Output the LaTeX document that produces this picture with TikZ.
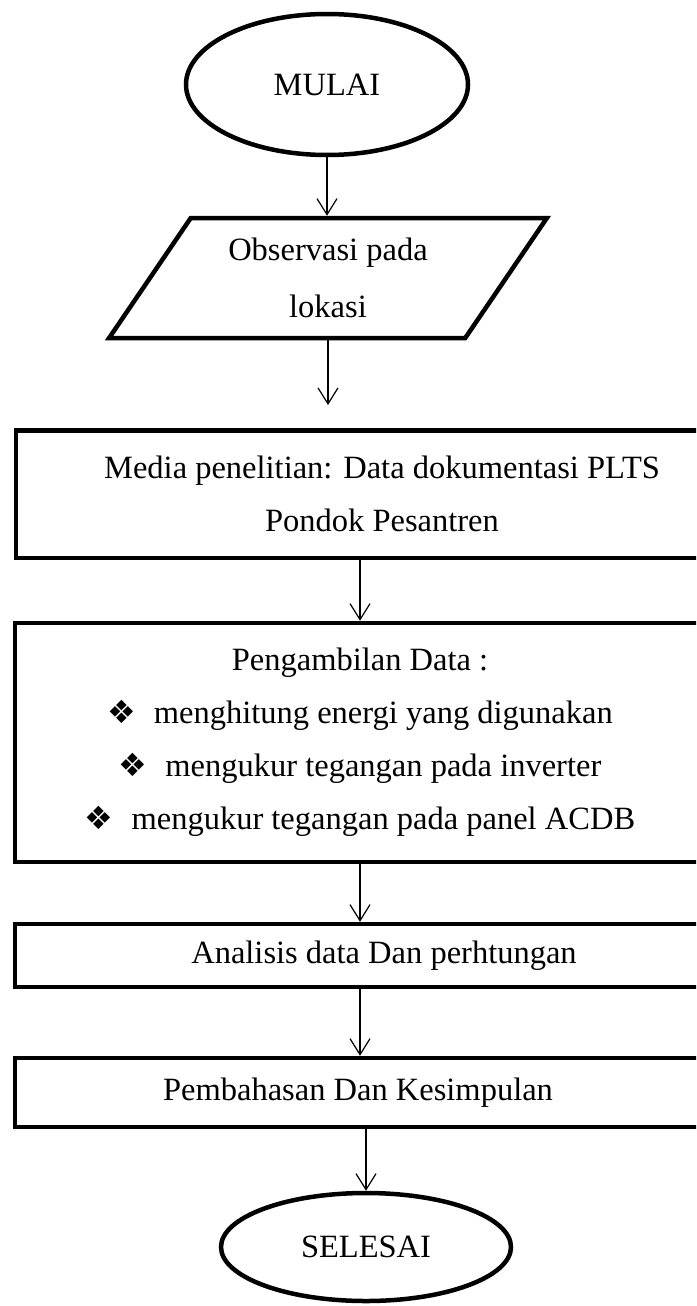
\documentclass[tikz,border=0pt]{standalone}
\usepackage{fontspec}
\setmainfont{Liberation Serif}
\newfontfamily\symfont{DejaVu Sans}
\usetikzlibrary{shapes.geometric,arrows.meta}
\tikzset{every node/.style={font=\fontsize{32.5}{53}\selectfont, align=center, inner sep=0pt},
  box/.style={draw, rectangle, line width=4.5pt},
  oval/.style={draw, ellipse, line width=4.5pt},
  slant/.style={draw, trapezium, trapezium left angle=53.4, trapezium right angle=126.6,
    trapezium stretches=true, line width=4.5pt},
  arr/.style={line width=1.2pt, -{Straight Barb[length=16pt,width=20pt]}}}
\newcommand{\itm}{{\symfont\fontsize{32}{32}\selectfont ❖}\hspace{18pt}}

\begin{document}
\begin{tikzpicture}[x=1pt,y=-1pt]
  \path[use as bounding box, clip] (0,0) rectangle (696,1306);
  % start and input
  \node[oval, minimum width=282, minimum height=141] (mulai) at (327,84.5) {MULAI};
  \node[slant, minimum width=440, minimum height=120] (obs) at (328,278) {Observasi pada\\[4pt]lokasi};
  % process boxes (right side runs off the page)
  \node[box, minimum width=732, minimum height=127.5] (media) at (382,494)
    {Media penelitian: Data dokumentasi PLTS\\Pondok Pesantren};
  \node[box, minimum width=690, minimum height=239] (data) at (360,742.5)
    {Pengambilan Data :\\
     \itm menghitung energi yang digunakan\\
     \itm mengukur tegangan pada inverter\\
     \itm mengukur tegangan pada panel ACDB};
  \node[box, minimum width=738, minimum height=63] (analisis) at (384,955.5) {Analisis data Dan perhtungan};
  \node[box, minimum width=686, minimum height=69] (bahas) at (358,1092.5) {Pembahasan Dan Kesimpulan};
  \node[oval, minimum width=290, minimum height=108] (selesai) at (366,1247) {SELESAI};
  % arrows
  \draw[arr] (mulai.south) -- (mulai.south |- obs.north);
  \draw[arr, shorten >=23pt] (obs.south) -- (obs.south |- media.north);
  \draw[arr] (data.north |- media.south) -- (data.north);
  \draw[arr] (data.south) -- (data.south |- analisis.north);
  \draw[arr] (data.south |- analisis.south) -- (data.south |- bahas.north);
  \draw[arr] (selesai.north |- bahas.south) -- (selesai.north);
\end{tikzpicture}
\end{document}
